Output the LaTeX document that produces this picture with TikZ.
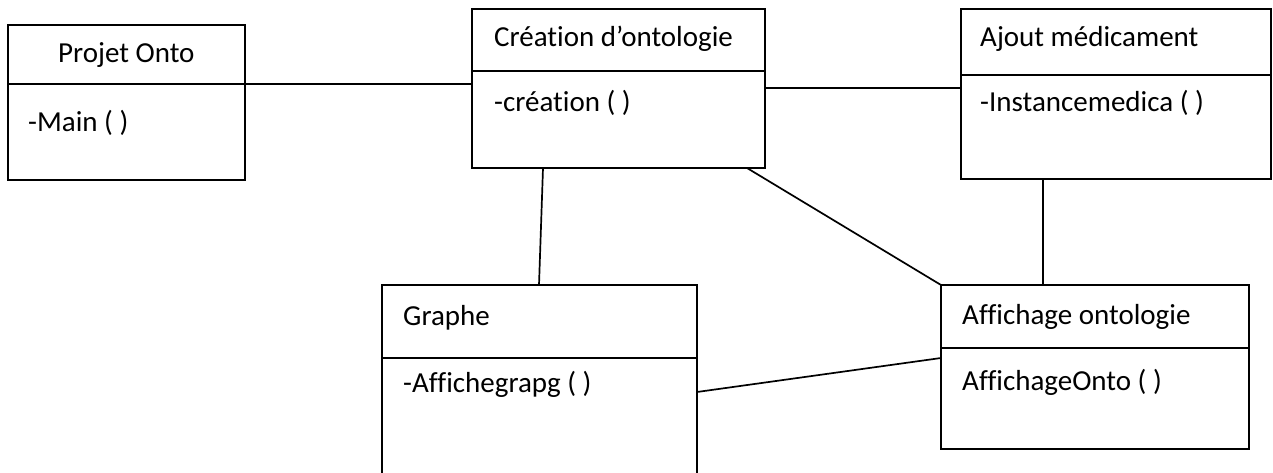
\documentclass[tikz,border=0pt]{standalone}
\usepackage{fontspec}
\setmainfont{Carlito}[Ligatures=NoCommon]
\usetikzlibrary{calc}
\begin{document}
\begin{tikzpicture}[x=1pt,y=-1pt,
  classbox/.style={draw=black,line width=2pt,rectangle,anchor=north west,inner sep=0pt,outer sep=0pt},
  divline/.style={line width=2pt},
  link/.style={line width=1.7pt},
  lbl/.style={anchor=base west,inner sep=0pt,font=\fontsize{29}{33}\selectfont}]
\useasboundingbox[fill=white] (0,0) rectangle (1273,473);
\clip (0,0) rectangle (1273,473);
% boxes
\node[classbox,minimum width=237pt,minimum height=155pt] (po) at (8,25) {};
\node[classbox,minimum width=293pt,minimum height=159pt] (cr) at (472,9) {};
\node[classbox,minimum width=310pt,minimum height=170pt] (aj) at (961,9) {};
\node[classbox,minimum width=315pt,minimum height=200pt] (gr) at (382,285) {};
\node[classbox,minimum width=308pt,minimum height=164pt] (af) at (941,285) {};
% dividers
\draw[divline] ($(po.north west)+(0,59)$) -- ($(po.north east)+(0,59)$);
\draw[divline] ($(cr.north west)+(0,62)$) -- ($(cr.north east)+(0,62)$);
\draw[divline] ($(aj.north west)+(0,66)$) -- ($(aj.north east)+(0,66)$);
\draw[divline] ($(gr.north west)+(0,73)$) -- ($(gr.north east)+(0,73)$);
\draw[divline] ($(af.north west)+(0,63)$) -- ($(af.north east)+(0,63)$);
% texts
\node[lbl] (t1) at (58,63) {Projet Onto};
\node[lbl] (t2) at (28,132) {-Main ( )};
\node[lbl] (t3) at (494,47) {Création d’ontologie};
\node[lbl] (t4) at (494,112) {-création ( )};
\node[lbl] (t5) at (980,47) {Ajout médicament};
\node[lbl] (t6) at (980,112) {-Instancemedica ( )};
\node[lbl] (t7) at (403,325) {Graphe};
\node[lbl] (t8) at (403,392) {-Affichegrapg ( )};
\node[lbl] (t9) at (962,324) {Affichage ontologie};
\node[lbl] (t10) at (962,390) {AffichageOnto ( )};
% connectors
\draw[link] ($(po.north east)+(0,59)$) -- ($(cr.north west)+(0,75)$);
\draw[link] ($(cr.north east)+(0,79)$) -- ($(aj.north west)+(0,79)$);
\draw[link] ($(cr.south west)+(71,0)$) -- ($(gr.north west)+(157,0)$);
\draw[link] ($(cr.south west)+(275,0)$) -- (af.north west);
\draw[link] ($(aj.south west)+(82,0)$) -- ($(af.north west)+(102,0)$);
\draw[link] ($(gr.north east)+(0,107)$) -- ($(af.north west)+(0,73)$);
\end{tikzpicture}
\end{document}
